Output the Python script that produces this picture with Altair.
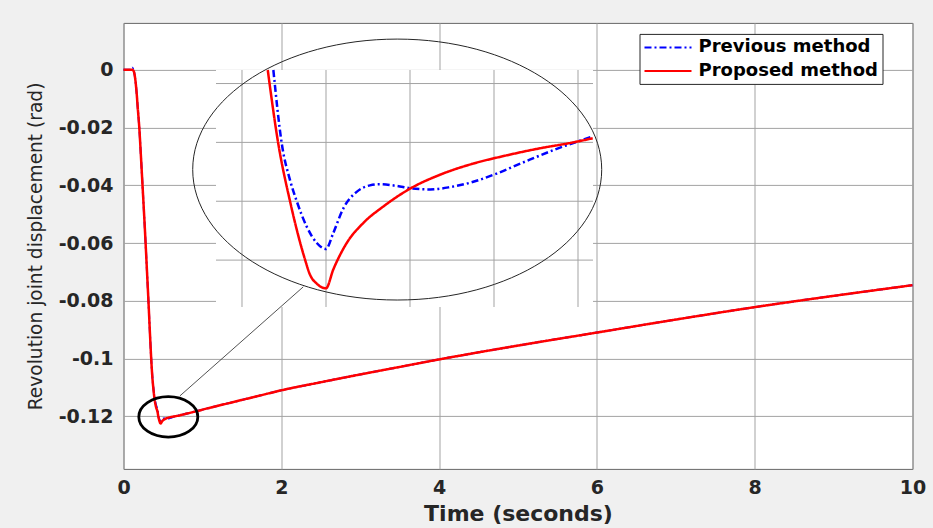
import altair as alt
import pandas as pd

# ---------------- data ----------------
series_names = ["Previous method", "Proposed method"]
series_colors = ["#0000ff", "#ff0000"]
series_dash = [[7, 3, 2, 3], [1, 0]]

# Proposed method (red, solid)
t_prop = [0, 0.11, 0.125, 0.137, 0.15, 0.167, 0.18, 0.200, 0.221, 0.241, 0.261,
          0.280, 0.298, 0.316, 0.333, 0.351, 0.365, 0.38, 0.395, 0.41,
          0.4334, 0.4409, 0.4493, 0.46, 0.4636, 0.4684, 0.475, 0.4802, 0.4898,
          0.5016, 0.5159, 0.5355, 0.5564, 0.5802, 0.6041, 0.6279, 0.6516, 0.6655,
          0.75, 0.9, 1.1, 1.4, 1.7, 2.0, 2.5, 3.0, 3.5, 4.0, 5.0, 6.0, 7.0, 8.0, 9.0, 10.0]
v_prop = [0, 0, -0.0003, -0.0012, -0.0035, -0.0082, -0.013, -0.020, -0.030, -0.040, -0.050,
          -0.060, -0.070, -0.080, -0.090, -0.100, -0.1062, -0.1108, -0.1143, -0.1165,
          -0.11877, -0.12002, -0.12100, -0.12199, -0.12225, -0.12240, -0.12248, -0.12216, -0.12171,
          -0.12137, -0.12109, -0.12078, -0.12055, -0.12036, -0.12022, -0.12010, -0.12000, -0.11993,
          -0.1194, -0.1184, -0.1170, -0.1150, -0.1130, -0.1110, -0.1082, -0.1055, -0.1029, -0.1003,
          -0.0955, -0.0910, -0.0865, -0.0822, -0.0783, -0.0746]

# Previous method (blue, dash-dot)
t_prev = [0, 0.10, 0.112, 0.125, 0.137, 0.15, 0.167, 0.18, 0.200, 0.221, 0.241, 0.261,
          0.280, 0.298, 0.316, 0.333, 0.351, 0.365, 0.38, 0.395, 0.41,
          0.4374, 0.4434, 0.4493, 0.4541, 0.4612, 0.4684, 0.475, 0.4802, 0.4874, 0.4969,
          0.5064, 0.5136, 0.5255, 0.5355, 0.5493, 0.5636, 0.5802, 0.5969, 0.6159, 0.6398, 0.6655,
          0.75, 0.9, 1.1, 1.4, 1.7, 2.0, 2.5, 3.0, 3.5, 4.0, 5.0, 6.0, 7.0, 8.0, 9.0, 10.0]
v_prev = [0, 0, 0.0007, 0.0, -0.0012, -0.0035, -0.0082, -0.013, -0.020, -0.030, -0.040, -0.050,
          -0.060, -0.070, -0.080, -0.090, -0.100, -0.1060, -0.1104, -0.1138, -0.1158,
          -0.11877, -0.12002, -0.12064, -0.12100, -0.12143, -0.12171, -0.12181, -0.12154, -0.12112, -0.12084,
          -0.12073, -0.12071, -0.12074, -0.12078, -0.12080, -0.12076, -0.12067, -0.12053, -0.12034, -0.12011, -0.11990,
          -0.1194, -0.1184, -0.1170, -0.1150, -0.1130, -0.1110, -0.1082, -0.1055, -0.1029, -0.1003,
          -0.0955, -0.0910, -0.0865, -0.0822, -0.0783, -0.0746]

x_ticks = [0, 2, 4, 6, 8, 10]
y_ticks = [0, -0.02, -0.04, -0.06, -0.08, -0.1, -0.12]
x_domain = [0, 10]
y_domain = [-0.1382, 0.0162]

# zoomed inset window (data ranges) and its own grid
inset_x_domain = [0.39643, 0.66571]
inset_y_domain = [-0.122797, -0.11877]
inset_x_grid = [0.415, 0.475, 0.535, 0.595, 0.655]
inset_y_grid = [-0.119, -0.120, -0.121, -0.122]

# annotation anchors (in main data coordinates)
big_ellipse_t, big_ellipse_v = [3.469], [-0.03457]
small_circle_t, small_circle_v = [0.568], [-0.1202]
connector_t, connector_v = [0.716, 2.279], [-0.1129, -0.07516]

# ---------------- layout ----------------
W, H = 789, 446
inset_x_range = [92.5, 469.5]
inset_y_range = [284.1, 47.1]

FONT = "DejaVu Sans"
TXT = "#262626"
GRID = "#a3a3a3"


def ellipse_path(ratio):
    k = 0.5523
    r = ratio
    return (f"M1,0 C1,{k*r:.4f} {k:.4f},{r:.4f} 0,{r:.4f} "
            f"C{-k:.4f},{r:.4f} -1,{k*r:.4f} -1,0 "
            f"C-1,{-k*r:.4f} {-k:.4f},{-r:.4f} 0,{-r:.4f} "
            f"C{k:.4f},{-r:.4f} 1,{-k*r:.4f} 1,0 Z")


df_prev = pd.DataFrame({"t": t_prev, "v": v_prev, "series": series_names[0]})
df_prop = pd.DataFrame({"t": t_prop, "v": v_prop, "series": series_names[1]})

legend = alt.Legend(title=None, orient="none", legendX=516, legendY=11,
                    symbolType="M-2.765,0L2.765,0", symbolSize=289, symbolStrokeWidth=2,
                    symbolOffset=15, labelOffset=21,
                    labelFont=FONT, labelFontWeight="bold", labelFontSize=18,
                    labelColor="black", padding=4, rowPadding=4.5,
                    fillColor="white", strokeColor="#262626", labelLimit=400)
color = alt.Color("series:N", scale=alt.Scale(domain=series_names, range=series_colors), legend=legend)
dash = alt.StrokeDash("series:N", scale=alt.Scale(domain=series_names, range=series_dash), legend=legend)

main_x_scale = alt.Scale(domain=x_domain, nice=False, zero=False)
main_y_scale = alt.Scale(domain=y_domain, nice=False, zero=False)

x_axis = alt.Axis(values=x_ticks, format="d", title="Time (seconds)", grid=True,
                  gridColor=GRID, gridWidth=1, domain=False, ticks=False,
                  labelFlush=False, labelPadding=24.5, labelBaseline="alphabetic",
                  labelFont=FONT, labelFontWeight="bold", labelFontSize=19, labelColor=TXT,
                  titleFont=FONT, titleFontWeight="bold", titleFontSize=22, titleColor=TXT,
                  titleBaseline="alphabetic", titleAlign="center", titleX=W / 2, titleY=51.3)
y_axis = alt.Axis(values=y_ticks, labelExpr="datum.value == 0 ? '0' : '-' + format(-datum.value, '~g')",
                  title="Revolution joint displacement (rad)", grid=True,
                  gridColor=GRID, gridWidth=1, domain=False, ticks=False,
                  labelFlush=False, labelPadding=10.5,
                  labelFont=FONT, labelFontWeight="bold", labelFontSize=19, labelColor=TXT,
                  titleFont=FONT, titleFontWeight="normal", titleFontSize=18.6,
                  titleColor=TXT, titleAngle=270, titleAlign="center", titleBaseline="middle",
                  titleX=-88.5, titleY=H / 2)

main_blue = alt.Chart(df_prev).mark_line(strokeWidth=2, interpolate="monotone").encode(
    x=alt.X("t:Q", scale=main_x_scale, axis=x_axis),
    y=alt.Y("v:Q", scale=main_y_scale, axis=y_axis),
    color=color, strokeDash=dash, order="t:Q")
main_red = alt.Chart(df_prop).mark_line(strokeWidth=2.5, interpolate="monotone").encode(
    x=alt.X("t:Q", scale=main_x_scale, axis=x_axis),
    y=alt.Y("v:Q", scale=main_y_scale, axis=y_axis),
    color=color, strokeDash=dash, order="t:Q")
main_layer = alt.layer(main_blue, main_red)

# ---------------- inset ----------------
ix_scale = alt.Scale(domain=inset_x_domain, range=inset_x_range, nice=False, zero=False)
iy_scale = alt.Scale(domain=inset_y_domain, range=inset_y_range, nice=False, zero=False)

inset_box = pd.DataFrame({"x0": [inset_x_domain[0]], "x1": [inset_x_domain[1]],
                          "y0": [inset_y_domain[0]], "y1": [inset_y_domain[1]]})
inset_bg = alt.Chart(inset_box).mark_rect(fill="white").encode(
    x=alt.X("x0:Q", scale=ix_scale, axis=None), x2="x1:Q",
    y=alt.Y("y0:Q", scale=iy_scale, axis=None), y2="y1:Q")

vgrid = pd.DataFrame({"g": inset_x_grid, "y0": inset_y_domain[0], "y1": inset_y_domain[1]})
hgrid = pd.DataFrame({"g": inset_y_grid, "x0": inset_x_domain[0], "x1": inset_x_domain[1]})
inset_vgrid = alt.Chart(vgrid).mark_rule(color=GRID, strokeWidth=1).encode(
    x=alt.X("g:Q", scale=ix_scale, axis=None),
    y=alt.Y("y0:Q", scale=iy_scale, axis=None), y2="y1:Q")
inset_hgrid = alt.Chart(hgrid).mark_rule(color=GRID, strokeWidth=1).encode(
    y=alt.Y("g:Q", scale=iy_scale, axis=None),
    x=alt.X("x0:Q", scale=ix_scale, axis=None), x2="x1:Q")

flt = (f"datum.t >= {inset_x_domain[0]} && datum.t <= {inset_x_domain[1]} && "
       f"datum.v >= {inset_y_domain[0]} && datum.v <= {inset_y_domain[1] + 1e-7}")
inset_blue = alt.Chart(df_prev).transform_filter(flt).mark_line(strokeWidth=2.5, interpolate="monotone").encode(
    x=alt.X("t:Q", scale=ix_scale, axis=None),
    y=alt.Y("v:Q", scale=iy_scale, axis=None),
    color=color, strokeDash=dash, order="t:Q")
inset_red = alt.Chart(df_prop).transform_filter(flt).mark_line(strokeWidth=2.5, interpolate="monotone").encode(
    x=alt.X("t:Q", scale=ix_scale, axis=None),
    y=alt.Y("v:Q", scale=iy_scale, axis=None),
    color=color, strokeDash=dash, order="t:Q")
inset_layer = alt.layer(inset_bg, inset_vgrid, inset_hgrid, inset_blue, inset_red)

# ---------------- annotations (ellipse, circle, connector) ----------------
ax_scale = alt.Scale(domain=x_domain, nice=False, zero=False)
ay_scale = alt.Scale(domain=y_domain, nice=False, zero=False)

big = alt.Chart(pd.DataFrame({"t": big_ellipse_t, "v": big_ellipse_v})).mark_point(
    shape=ellipse_path(0.638), filled=False, stroke="#262626", strokeWidth=1, opacity=1).encode(
    x=alt.X("t:Q", scale=ax_scale, axis=None), y=alt.Y("v:Q", scale=ay_scale, axis=None),
    size=alt.value(409 ** 2))
small = alt.Chart(pd.DataFrame({"t": small_circle_t, "v": small_circle_v})).mark_point(
    shape=ellipse_path(0.685), filled=False, stroke="black", strokeWidth=2.8, opacity=1).encode(
    x=alt.X("t:Q", scale=ax_scale, axis=None), y=alt.Y("v:Q", scale=ay_scale, axis=None),
    size=alt.value(59 ** 2))
conn = alt.Chart(pd.DataFrame({"t0": [connector_t[0]], "t1": [connector_t[1]],
                               "v0": [connector_v[0]], "v1": [connector_v[1]]})).mark_rule(
    color="#262626", strokeWidth=0.8).encode(
    x=alt.X("t0:Q", scale=ax_scale, axis=None), x2="t1:Q",
    y=alt.Y("v0:Q", scale=ay_scale, axis=None), y2="v1:Q")
annot_layer = alt.layer(big, small, conn)

chart = alt.layer(main_layer, inset_layer, annot_layer).resolve_scale(
    x="independent", y="independent"
).properties(
    width=W, height=H, autosize="none",
    padding={"left": 123.5, "top": 22.9, "right": 20.5, "bottom": 59.1},
    background="#f0f0f0",
).configure_view(stroke="#666666", strokeWidth=1, fill="white")

chart.save("out.html", embed_options={"renderer": "svg", "actions": False})
